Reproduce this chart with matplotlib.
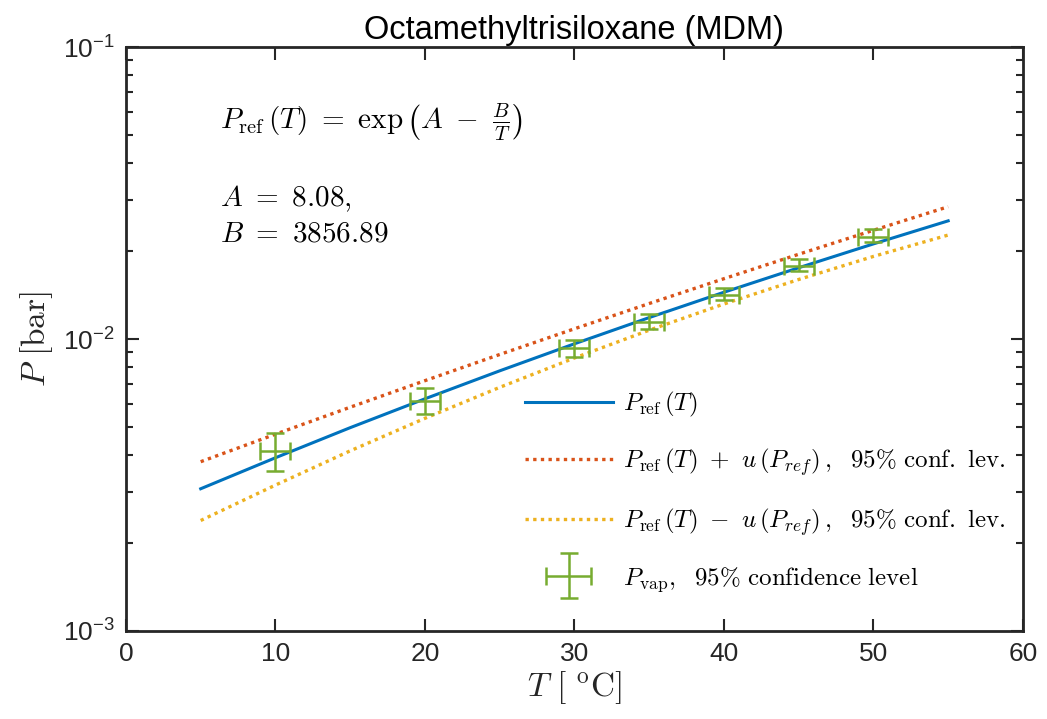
import matplotlib

matplotlib.use("Agg")
import matplotlib.pyplot as plt
from matplotlib.container import ErrorbarContainer
from matplotlib.legend_handler import HandlerErrorbar
from matplotlib.ticker import LogLocator, NullFormatter

plt.rcParams["mathtext.fontset"] = "cm"
plt.rcParams["mathtext.rm"] = "Liberation Sans"
plt.rcParams["font.family"] = ["Liberation Sans", "DejaVu Sans"]

# fitted curve and its 95% band
T_fit = [5, 10, 15, 20, 25, 30, 35, 40, 45, 50, 55]
P_fit = [0.00307, 0.00392, 0.00497, 0.00624, 0.00778, 0.00963,
         0.01184, 0.01446, 0.01754, 0.02117, 0.02539]
P_upper = [0.00380, 0.00472, 0.00584, 0.00720, 0.00885, 0.01084,
           0.01323, 0.01609, 0.01951, 0.02357, 0.02838]
P_lower = [0.00239, 0.00316, 0.00414, 0.00535, 0.00683, 0.00861,
           0.01072, 0.01318, 0.01599, 0.01918, 0.02270]

# measured vapour pressure with 95% error bars
T_meas = [10, 20, 30, 35, 40, 45, 50]
P_meas = [0.00415, 0.00613, 0.00929, 0.01146, 0.01415, 0.01783, 0.0224]
P_meas_hi = [0.00475, 0.00678, 0.00992, 0.0122, 0.0149, 0.0188, 0.02374]
P_meas_lo = [0.00353, 0.00553, 0.00866, 0.0108, 0.0136, 0.01714, 0.02153]
T_err = 1.0

BLUE, ORANGE, YELLOW, GREEN = "#0072BD", "#D95319", "#EDB120", "#77AC30"
AX_COL = "#262626"

fig = plt.figure(figsize=(10.47, 7.19), dpi=100)
ax = fig.add_axes([0.1203, 0.1224, 0.8567, 0.8122])

dots = (0, (1, 1.3))
ax.plot(T_fit, P_fit, color=BLUE, lw=2.2, label=r"$P_{\rm ref}\,(T)$")
ax.plot(T_fit, P_upper, color=ORANGE, lw=2.4, linestyle=dots,
        label=r"$P_{\rm ref}\,(T)\ +\ u\,(P_{ref})\,,\ \ 95\%\ {\rm conf.\ lev.}$")
ax.plot(T_fit, P_lower, color=YELLOW, lw=2.4, linestyle=dots,
        label=r"$P_{\rm ref}\,(T)\ -\ u\,(P_{ref})\,,\ \ 95\%\ {\rm conf.\ lev.}$")
yerr = [[p - lo for p, lo in zip(P_meas, P_meas_lo)],
        [hi - p for p, hi in zip(P_meas, P_meas_hi)]]
ax.errorbar(T_meas, P_meas, xerr=T_err, yerr=yerr, fmt="none",
            ecolor=GREEN, elinewidth=1.8, capsize=6.5, capthick=1.8,
            label=r"$P_{\rm vap},\ \ 95\%\ {\rm confidence\ level}$")

ax.set_yscale("log")
ax.set_xlim(0, 60)
ax.set_ylim(1e-3, 1e-1)
ax.set_xticks([0, 10, 20, 30, 40, 50, 60])
ax.yaxis.set_minor_locator(LogLocator(base=10, subs=range(2, 10)))
ax.yaxis.set_minor_formatter(NullFormatter())

ax.tick_params(which="both", direction="in", top=True, right=True,
               colors=AX_COL, width=1.5)
ax.tick_params(which="major", length=9, labelsize=19, pad=8)
ax.tick_params(which="minor", length=5)
for lab in ax.get_yticklabels():
    lab.set_math_fontfamily("custom")
for sp in ax.spines.values():
    sp.set_linewidth(2)
    sp.set_color(AX_COL)

ax.set_xlabel(r"$T\ [\ ^{\rm o}{\rm C}]$", fontsize=24, labelpad=2,
              color=AX_COL)
ax.set_ylabel(r"$P\ [{\rm bar}]$", fontsize=24, labelpad=6, color=AX_COL)
ax.set_title("Octamethyltrisiloxane (MDM)", fontsize=23.5, pad=6)

ax.text(0.105, 0.87,
        r"$P_{\rm ref}\,(T)\ =\ \exp\left(A\ -\ \frac{B}{T}\right)$",
        transform=ax.transAxes, fontsize=21, va="center")
ax.text(0.105, 0.74, r"$A\ =\ 8.08,$", transform=ax.transAxes, fontsize=21,
        va="center")
ax.text(0.105, 0.68, r"$B\ =\ 3856.89$", transform=ax.transAxes,
        fontsize=21, va="center")

leg = ax.legend(loc="lower left", bbox_to_anchor=(0.42, 0.025),
                frameon=False, fontsize=18, handlelength=3.5,
                labelspacing=1.1, handletextpad=0.4,
                handler_map={ErrorbarContainer: HandlerErrorbar(xerr_size=0.9)})

fig.savefig("out.png", dpi=100)
